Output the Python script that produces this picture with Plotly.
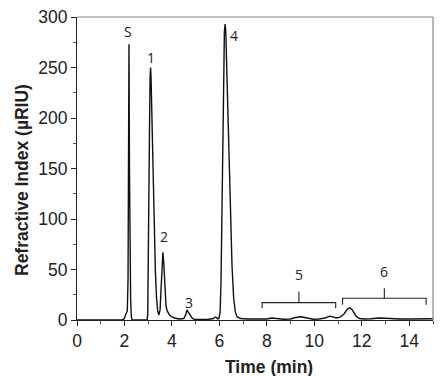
import plotly.graph_objects as go

# Chromatogram trace: time (min) and signal (µRIU)
time_min = [0, 1.0, 1.9, 1.98, 2.03, 2.08, 2.12, 2.15, 2.17, 2.19, 2.21, 2.23, 2.26, 2.29, 2.32,
            2.6, 2.95, 2.98, 3.0, 3.03, 3.06, 3.08, 3.1, 3.12, 3.16, 3.2, 3.25, 3.3, 3.35, 3.4, 3.45,
            3.5, 3.54, 3.58, 3.62, 3.66, 3.7, 3.75, 3.8, 3.9, 4.0, 4.1, 4.3, 4.5, 4.58, 4.63, 4.68,
            4.75, 4.85, 4.95, 5.2, 5.5, 5.75, 5.83, 5.88, 5.93, 5.98, 6.03, 6.07, 6.1, 6.14, 6.18,
            6.21, 6.24, 6.27, 6.32, 6.37, 6.42, 6.47, 6.53, 6.6, 6.67, 6.75, 6.9, 7.2, 7.6, 8.0,
            8.2, 8.4, 8.7, 9.0, 9.2, 9.45, 9.7, 9.95, 10.2, 10.45, 10.65, 10.8, 10.95, 11.1, 11.25,
            11.4, 11.5, 11.6, 11.75, 11.9, 12.1, 12.4, 12.7, 13.0, 13.3, 13.6, 14.0, 14.3, 14.6, 15.0]
signal_uriu = [0, 0, 0, 1, 5, 7, 9, 40, 150, 273, 150, 70, 20, 3, 0,
               0, 0, 5, 40, 120, 200, 240, 250, 240, 190, 140, 90, 50, 22, 9, 5,
               10, 30, 58, 67, 55, 30, 14, 9, 5, 3, 2, 1, 1.5, 5, 10, 8,
               5, 2, 0.5, 0.5, 0.5, 1.5, 3, 2.5, 1, 1.5, 8, 40, 100, 150, 240,
               285, 293, 285, 240, 190, 145, 100, 55, 22, 8, 3, 1.5, 1, 0.8, 1,
               2, 1.5, 0.8, 1, 2.5, 3.2, 2.2, 0.8, 1, 2, 3.8, 3, 2, 3, 6,
               11, 12, 10, 4, 1.5, 1, 1.2, 2, 1.8, 1.2, 1, 1, 1.2, 1.5, 1.2]

# Peak labels
peak_labels = ["S", "1", "2", "3", "4"]
peak_label_time = [2.15, 3.12, 3.65, 4.72, 6.62]
peak_label_value = [286, 260, 83, 17.5, 282]

# Bracketed regions
bracket_labels = ["5", "6"]
bracket_start = [7.8, 11.19]
bracket_end = [10.9, 14.71]
bracket_level = [17.2, 21.5]
bracket_depth = [5.6, 6.5]
bracket_stem = [11, 10]

x_ticks = [0, 2, 4, 6, 8, 10, 12, 14]
y_ticks = [0, 50, 100, 150, 200, 250, 300]

fig = go.Figure()
fig.add_trace(go.Scatter(x=time_min, y=signal_uriu, mode="lines",
                         line=dict(color="#111111", width=1.4), showlegend=False))

for lab, s, e, lv, d, st in zip(bracket_labels, bracket_start, bracket_end,
                                bracket_level, bracket_depth, bracket_stem):
    mid = (s + e) / 2
    fig.add_trace(go.Scatter(x=[s, s, e, e], y=[lv - d, lv, lv, lv - d], mode="lines",
                             line=dict(color="#222222", width=1.1), showlegend=False))
    fig.add_trace(go.Scatter(x=[mid, mid], y=[lv, lv + st], mode="lines",
                             line=dict(color="#222222", width=1.1), showlegend=False))
    fig.add_annotation(x=mid, y=lv + st + 16.5, text=lab, showarrow=False,
                       font=dict(family="Open Sans", size=14, color="#222222"))

for lab, t, v in zip(peak_labels, peak_label_time, peak_label_value):
    fig.add_annotation(x=t, y=v, text=lab, showarrow=False,
                       font=dict(family="Open Sans", size=14, color="#222222"))

fig.add_annotation(xref="paper", yref="paper", x=(269 - 77) / 356, y=(320 - 367) / 303,
                   xanchor="center", yanchor="middle",
                   text="<b>Time (min)</b>", showarrow=False,
                   font=dict(family="Liberation Sans", size=17.5, color="#222222"))
fig.add_annotation(xref="paper", yref="paper", x=(22 - 77) / 356, y=(320 - 180) / 303,
                   xanchor="center", yanchor="middle",
                   text="<b>Refractive Index (µRIU)</b>", showarrow=False, textangle=-90,
                   font=dict(family="Liberation Sans", size=17.5, color="#222222"))

# top / right frame lines (gray)
fig.add_shape(type="line", xref="paper", yref="paper", x0=0, x1=1, y0=1, y1=1,
              line=dict(color="#888888", width=1.2))
fig.add_shape(type="line", xref="paper", yref="paper", x0=1, x1=1, y0=0, y1=1,
              line=dict(color="#888888", width=1.2))

fig.update_xaxes(range=[0, 15], tickvals=x_ticks, ticks="outside", ticklen=5, tickwidth=1,
                 tickcolor="#222222", showline=True, linecolor="#222222", linewidth=1.2,
                 showgrid=False, zeroline=False, automargin=False,
                 minor=dict(ticks="outside", ticklen=3, dtick=1, tickcolor="#555555", showgrid=False),
                 tickfont=dict(family="Liberation Sans", size=17.5, color="#222222"))
fig.update_yaxes(range=[0, 300], tickvals=y_ticks, ticks="outside", ticklen=5, tickwidth=1,
                 tickcolor="#222222", showline=True, linecolor="#222222", linewidth=1.2,
                 showgrid=False, zeroline=False, automargin=False,
                 minor=dict(ticks="outside", ticklen=3, dtick=25, tickcolor="#555555", showgrid=False),
                 tickfont=dict(family="Liberation Sans", size=17.5, color="#222222"))

fig.update_layout(width=441, height=376, margin=dict(l=77, r=8, t=17, b=56),
                  plot_bgcolor="white", paper_bgcolor="white")

# remove the default 8px page margin so the figure fills the 441x376 window exactly
fig.write_html("out.html", config={"displayModeBar": False},
               post_script="document.body.style.margin='0';")
